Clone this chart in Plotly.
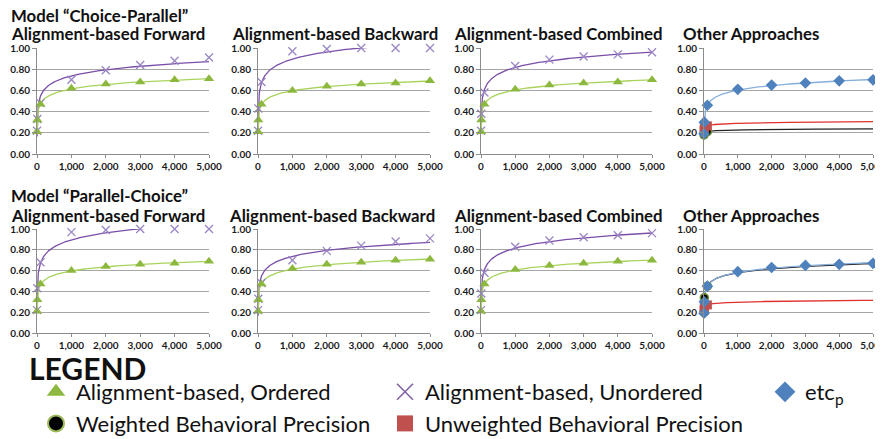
import numpy as np
import plotly.graph_objects as go
from plotly.subplots import make_subplots

# ---------------- data ----------------
x_all = [1, 10, 100, 1000, 2000, 3000, 4000, 5000]
x_small = [1, 10, 100]
x_ticks = [0, 1000, 2000, 3000, 4000, 5000]
y_ticks = [0.0, 0.2, 0.4, 0.6, 0.8, 1.0]

# Model "Choice-Parallel"
cp_fwd_ordered = [0.21, 0.32, 0.47, 0.62, 0.66, 0.68, 0.70, 0.71]
cp_fwd_unordered = [0.22, 0.33, 0.48, 0.70, 0.79, 0.84, 0.88, 0.91]
cp_bwd_ordered = [0.21, 0.32, 0.47, 0.60, 0.64, 0.66, 0.67, 0.69]
cp_bwd_unordered = [0.22, 0.43, 0.68, 0.97, 0.99, 1.00, 1.00, 1.00]
cp_cmb_ordered = [0.21, 0.32, 0.47, 0.61, 0.65, 0.67, 0.68, 0.70]
cp_cmb_unordered = [0.22, 0.38, 0.58, 0.83, 0.89, 0.92, 0.94, 0.96]
cp_etcp = [0.19, 0.30, 0.46, 0.61, 0.65, 0.67, 0.69, 0.70]
cp_weighted = [0.18, 0.20, 0.21]
cp_unweighted = [0.22, 0.25, 0.265]

# Model "Parallel-Choice"
pc_fwd_ordered = [0.21, 0.32, 0.47, 0.60, 0.64, 0.66, 0.67, 0.69]
pc_fwd_unordered = [0.22, 0.43, 0.68, 0.97, 0.99, 1.00, 1.00, 1.00]
pc_bwd_ordered = [0.21, 0.32, 0.47, 0.62, 0.66, 0.68, 0.70, 0.71]
pc_bwd_unordered = [0.22, 0.33, 0.48, 0.70, 0.79, 0.84, 0.88, 0.91]
pc_cmb_ordered = [0.21, 0.32, 0.47, 0.61, 0.65, 0.67, 0.69, 0.70]
pc_cmb_unordered = [0.22, 0.38, 0.58, 0.83, 0.89, 0.92, 0.94, 0.96]
pc_etcp = [0.19, 0.30, 0.45, 0.59, 0.63, 0.65, 0.66, 0.67]
pc_weighted = [0.20, 0.34, 0.45]
pc_unweighted = [0.22, 0.25, 0.27]

row_titles = ['Model “Choice-Parallel”', 'Model “Parallel-Choice”']
panel_titles = ['Alignment-based Forward', 'Alignment-based Backward',
                'Alignment-based Combined', 'Other Approaches']
legend_names = ['Alignment-based, Ordered', 'Alignment-based, Unordered', 'etc<sub>p</sub>',
                'Weighted Behavioral Precision', 'Unweighted Behavioral Precision']

# ---------------- layout helpers ----------------
W, H = 883, 439          # browser window / figure size
OFF = 8                  # default page body margin
FW, FH = W, H


def px(x):
    return (x - OFF) / FW


def py(y):
    return 1 - (y - OFF) / FH


FONT = 'Lato'
C_TRI, C_TRI_LINE = '#8DB83F', '#A9D35B'
C_X, C_X_LINE = '#9A86C2', '#7A4EA8'
C_DIA, C_DIA_LINE = '#4F81BD', '#86AEDC'
C_SQ, C_SQ_LINE = '#C0504D', '#E0302E'
C_CIR, C_CIR_LINE = '#000000', '#222222'

x_fit = np.unique(np.concatenate([np.logspace(0, np.log10(5000), 160),
                                  np.linspace(1, 5000, 160)]))


def log_trend(xs, ys):
    b, a = np.polyfit(np.log(np.asarray(xs, float)), np.asarray(ys, float), 1)
    return a + b * np.log(x_fit)


fig = make_subplots(rows=2, cols=4)

col_px = [(37, 209), (258, 430), (481, 652), (704, 873)]
row_px = [(48, 154), (229, 333)]

tri = dict(symbol='triangle-up', size=9, color=C_TRI)
xm = dict(symbol='x-thin', size=8, line=dict(color=C_X, width=1.3))
dia = dict(symbol='diamond', size=9, color=C_DIA)
sq = dict(symbol='square', size=9, color=C_SQ)
cir = dict(symbol='circle', size=8, color=C_CIR, line=dict(color='#6E8F2E', width=1.5))

panels = [
    (1, 1, cp_fwd_ordered, cp_fwd_unordered),
    (1, 2, cp_bwd_ordered, cp_bwd_unordered),
    (1, 3, cp_cmb_ordered, cp_cmb_unordered),
    (2, 1, pc_fwd_ordered, pc_fwd_unordered),
    (2, 2, pc_bwd_ordered, pc_bwd_unordered),
    (2, 3, pc_cmb_ordered, pc_cmb_unordered),
]

series = []  # (row, col, xs, ys, marker, curve colour, curve width)
for r, c, ordd, unord in panels:
    series.append((r, c, x_all, unord, xm, C_X_LINE, 1.3))
    series.append((r, c, x_all, ordd, tri, C_TRI_LINE, 1.3))
for r, etc, wt, uw in [(1, cp_etcp, cp_weighted, cp_unweighted),
                       (2, pc_etcp, pc_weighted, pc_unweighted)]:
    series.append((r, 4, x_small, wt, cir, C_CIR_LINE, 1.2))
    series.append((r, 4, x_small, uw, sq, C_SQ_LINE, 1.3))
    series.append((r, 4, x_all, etc, dia, C_DIA_LINE, 1.3))

# trend curves first
for r, c, xs, ys, mk, lc, lw in series:
    fig.add_trace(go.Scatter(x=x_fit, y=log_trend(xs, ys), mode='lines',
                             line=dict(color=lc, width=lw),
                             showlegend=False, hoverinfo='skip'), row=r, col=c)
# markers on top (unclipped so edge markers stay whole)
for r, c, xs, ys, mk, lc, lw in series:
    fig.add_trace(go.Scatter(x=xs, y=ys, mode='markers', marker=mk, cliponaxis=False,
                             showlegend=False, hoverinfo='skip'), row=r, col=c)

# legend-only entries
leg_specs = [
    (legend_names[0], dict(symbol='triangle-up', size=16, color='#8DB83F'), 'legend', 'a'),
    (legend_names[3], dict(symbol='circle', size=16, color='#000000',
                           line=dict(color='#9BBB59', width=2)), 'legend', 'b'),
    (legend_names[1], dict(symbol='x-thin', size=16, line=dict(color='#8064A2', width=1.6)), 'legend2', 'c'),
    (legend_names[4], dict(symbol='square', size=16, color='#C0504D'), 'legend2', 'd'),
    (legend_names[2], dict(symbol='diamond', size=16, color='#4F81BD'), 'legend3', 'e'),
]
for name, mk, lg, grp in leg_specs:
    fig.add_trace(go.Scatter(x=[None], y=[None], mode='markers', marker=mk, name=name,
                             legend=lg, legendgroup=grp, showlegend=True, hoverinfo='skip'),
                  row=1, col=1)

# axes
for r in range(2):
    for c in range(4):
        i = r * 4 + c + 1
        x0, x1 = col_px[c]
        ytop, ybot = row_px[r]
        sfx = i if i > 1 else ''
        fig.update_layout(**{
            f'xaxis{sfx}': dict(
                domain=[px(x0), px(x1)], range=[0, 5000], tickvals=x_ticks,
                tickformat=',', showgrid=False, zeroline=False, automargin=False,
                showline=True, linecolor='#8C8C8C', linewidth=1,
                ticks='outside', ticklen=3, tickcolor='#8C8C8C',
                ticklabeloverflow='allow',
                tickfont=dict(family=FONT, size=10, color='#1a1a1a', weight='bold'),
                fixedrange=True),
            f'yaxis{sfx}': dict(
                domain=[py(ybot), py(ytop)], range=[0, 1], tickvals=y_ticks,
                tickformat='.2f', showgrid=True, gridcolor='#A6A6A6', gridwidth=1,
                zeroline=False, showline=True, linecolor='#8C8C8C', linewidth=1,
                automargin=False, ticklabeloverflow='allow',
                ticks='outside', ticklen=4, tickcolor='#8C8C8C',
                tickfont=dict(family=FONT, size=10, color='#1a1a1a', weight='bold'),
                fixedrange=True),
        })

# titles
anns = []
title_x = [[9, 230, 452, 681], [9, 227, 452, 681]]
title_y = [33, 215]
line1_y = [16, 195]
TITLE_SIZE = 16.8
for r in range(2):
    anns.append(dict(text=row_titles[r], x=px(title_x[r][0]), y=py(line1_y[r]),
                     xref='paper', yref='paper',
                     xanchor='left', yanchor='middle', showarrow=False,
                     font=dict(family=FONT, size=TITLE_SIZE, color='#111111', weight='bold')))
    for c in range(4):
        anns.append(dict(text=panel_titles[c], x=px(title_x[r][c]), y=py(title_y[r]),
                         xref='paper', yref='paper', xanchor='left', yanchor='middle',
                         showarrow=False,
                         font=dict(family=FONT, size=TITLE_SIZE, color='#111111', weight='bold')))
anns.append(dict(text='LEGEND', x=px(27), y=py(368), xref='paper', yref='paper',
                 xanchor='left', yanchor='middle', showarrow=False,
                 font=dict(family=FONT, size=30, color='#111111', weight='bold')))

leg_common = dict(xanchor='left', yanchor='top', bgcolor='rgba(0,0,0,0)',
                  font=dict(family=FONT, size=22, color='#111111'),
                  tracegroupgap=0, traceorder='grouped', itemclick=False,
                  itemdoubleclick=False)

fig.update_layout(
    width=FW, height=FH,
    margin=dict(l=0, r=0, t=0, b=0),
    paper_bgcolor='white', plot_bgcolor='white',
    font=dict(family=FONT),
    annotations=anns,
    showlegend=True,
    legend=dict(x=px(36), y=py(371), **leg_common),
    legend2=dict(x=px(385), y=py(371), **leg_common),
    legend3=dict(x=px(765), y=py(371), **leg_common),
)

fig.write_html('out.html')
